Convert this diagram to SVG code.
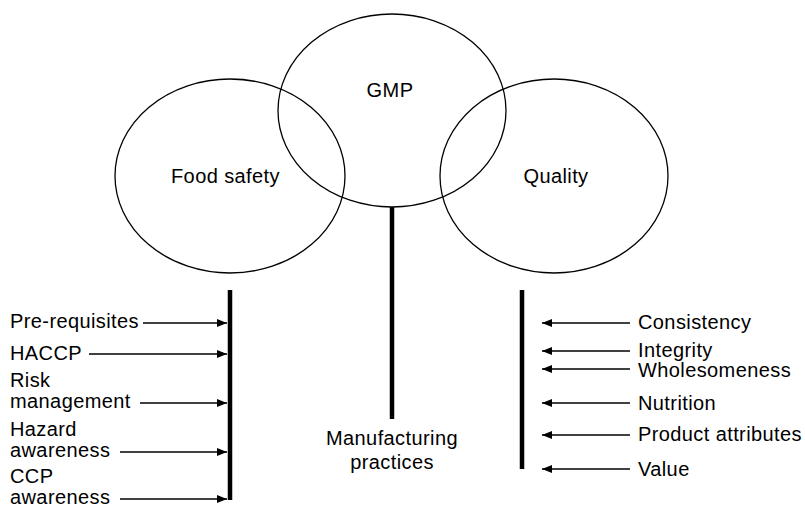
<svg xmlns="http://www.w3.org/2000/svg" width="805" height="508" viewBox="0 0 805 508">
<defs>
<style>
.ell{fill:none;stroke:#000;stroke-width:1.3}
.t{font-family:"Liberation Sans",Arial,Helvetica,sans-serif;font-size:20px;fill:#000;letter-spacing:0.4px}
.c{text-anchor:middle}
.bar{stroke:#000;stroke-width:4.5;fill:none}
.ar{stroke:#000;stroke-width:1.5;fill:none;marker-end:url(#ah)}
</style>
<marker id="ah" markerWidth="10" markerHeight="8" refX="10" refY="4" orient="auto" markerUnits="userSpaceOnUse">
<path d="M0,0 L10,4 L0,8 Z" fill="#000"/>
</marker>
</defs>
<rect width="805" height="508" fill="#fff"/>
<g id="food-safety">
<ellipse class="ell" cx="230" cy="176" rx="115" ry="97"/>
<text class="t" x="171" y="183">Food safety</text>
</g>
<g id="gmp">
<ellipse class="ell" cx="392" cy="110.5" rx="114" ry="96.5"/>
<text class="t c" x="390" y="97">GMP</text>
</g>
<g id="quality">
<ellipse class="ell" cx="554" cy="176" rx="114" ry="97"/>
<text class="t c" x="556" y="183">Quality</text>
</g>
<g id="manufacturing">
<text class="t c" x="392" y="445">Manufacturing</text>
<text class="t c" x="392" y="469">practices</text>
</g>
<g id="left-labels">
<text class="t" x="10" y="328">Pre-requisites</text>
<text class="t" x="10" y="360">HACCP</text>
<text class="t" x="10" y="387">Risk</text>
<text class="t" x="10" y="408">management</text>
<text class="t" x="10" y="436">Hazard</text>
<text class="t" x="10" y="457">awareness</text>
<text class="t" x="10" y="483">CCP</text>
<text class="t" x="10" y="504">awareness</text>
</g>
<g id="right-labels">
<text class="t" x="638" y="329">Consistency</text>
<text class="t" x="638" y="357">Integrity</text>
<text class="t" x="638" y="377">Wholesomeness</text>
<text class="t" x="638" y="410">Nutrition</text>
<text class="t" x="638" y="441">Product attributes</text>
<text class="t" x="638" y="476">Value</text>
</g>
<g id="connectors">
<line class="bar" x1="230" y1="290" x2="230" y2="500"/>
<line class="bar" x1="392" y1="207" x2="392" y2="419"/>
<line class="bar" x1="522" y1="290" x2="522" y2="469"/>
<line class="ar" x1="143" y1="323" x2="227" y2="323"/>
<line class="ar" x1="89" y1="354" x2="227" y2="354"/>
<line class="ar" x1="140" y1="403" x2="227" y2="403"/>
<line class="ar" x1="120" y1="452" x2="227" y2="452"/>
<line class="ar" x1="120" y1="499" x2="227" y2="499"/>
<line class="ar" x1="630" y1="323" x2="542" y2="323"/>
<line class="ar" x1="630" y1="351" x2="542" y2="351"/>
<line class="ar" x1="630" y1="369" x2="542" y2="369"/>
<line class="ar" x1="630" y1="403" x2="542" y2="403"/>
<line class="ar" x1="630" y1="435" x2="542" y2="435"/>
<line class="ar" x1="630" y1="469" x2="542" y2="469"/>
</g>
</svg>
